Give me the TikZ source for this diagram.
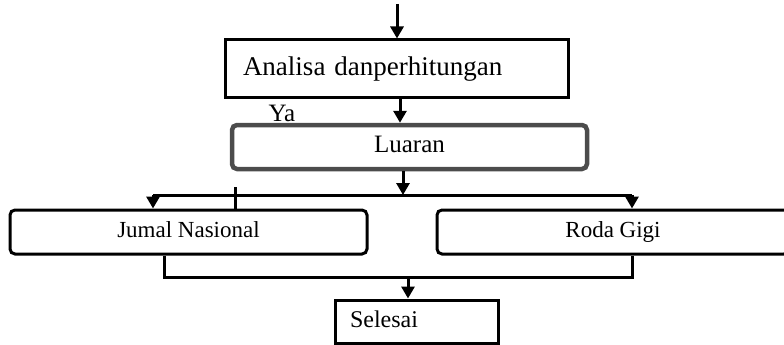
\documentclass[tikz,border=0pt]{standalone}
\usepackage{fontspec}
\setmainfont{Liberation Serif}
\usetikzlibrary{arrows.meta,positioning}

\begin{document}
\begin{tikzpicture}[x=1pt,y=-1pt,>={Triangle[length=12pt,width=13pt]},line width=3pt,
	box/.style={draw, rectangle, inner sep=0pt},
	rbox/.style={box, rounded corners=5pt},
	big/.style={font=\fontsize{27}{30}\selectfont, text height=19pt, text depth=6pt},
	mid/.style={font=\fontsize{23}{26}\selectfont, text height=16pt, text depth=5pt}]
	\clip (0,0) rectangle (784,345);

	\node[box, big, minimum width=343, minimum height=57, text width=307, align=left] (analisa) at (396.5,68.5) {Analisa danperhitungan};

	\node[rbox, mid, font=\fontsize{25}{28}\selectfont, draw=black!70, line width=4.5pt, minimum width=355, minimum height=44] (luaran) at (409.5,147) {Luaran};

	\node[mid, font=\fontsize{25}{28}\selectfont] (ya) at (282,116) {Ya};

	\node[rbox, mid, minimum width=357, minimum height=44] (jumal) at (188.5,232) {Jumal Nasional};

	\node[rbox, mid, minimum width=352, minimum height=44] (roda) at (613,232) {Roda Gigi};

	\node[box, mid, font=\fontsize{24}{27}\selectfont, minimum width=163, minimum height=43, text width=133, align=left] (selesai) at (416.5,321.5) {Selesai};

	\coordinate (top) at (397,4);
	\coordinate (mid1) at (400,97);
	\coordinate (split) at (403,195);
	\coordinate (sl) at (153,195);
	\coordinate (sr) at (632,195);
	\coordinate (tk) at (235,187);
	\coordinate (ml) at (164,277);
	\coordinate (mr) at (632,277);
	\coordinate (mm) at (408,277);

	\draw[->] (top) to (top |- analisa.north);
	\draw[->] (analisa.south -| mid1) to (mid1 |- luaran.north);
	\draw[->] (luaran.south -| split) to (split);
	\draw[] (sl) to (sr);
	\draw[->] (sl) to (sl |- jumal.north);
	\draw[->] (sr) to (sr |- roda.north);
	\draw[] (tk) to (tk |- jumal.north);
	\draw[] (ml |- jumal.south) -- (ml) -- (mr) -- (mr |- roda.south);
	\draw[->] (mm) to (mm |- selesai.north);

\end{tikzpicture}
\end{document}
